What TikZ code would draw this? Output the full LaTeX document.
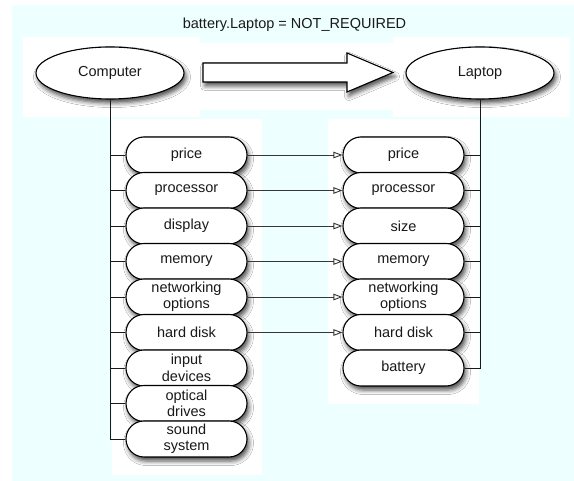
\documentclass[tikz,border=0pt]{standalone}
\usepackage{fontspec}
\setmainfont{Liberation Sans}
\usetikzlibrary{shapes.misc,shapes.geometric,shadows.blur,arrows.meta}
\definecolor{bgcyan}{RGB}{238,255,255}
\definecolor{linegray}{RGB}{55,55,55}
\definecolor{txt}{RGB}{25,25,25}
\begin{document}
\begin{tikzpicture}[x=1pt,y=-1pt,
  softshadow/.style={blur shadow={shadow xshift=2pt, shadow yshift=-4pt, shadow blur radius=4.5pt, shadow opacity=70}},
  pill/.style={rounded rectangle, draw=black, line width=1.1pt, fill=white,
    minimum width=121pt, minimum height=36pt, inner sep=0pt, align=center,
    font=\fontsize{14.5}{16.5}\selectfont, text=txt, softshadow},
  oval/.style={ellipse, draw=black, line width=1.1pt, fill=white,
    minimum width=148pt, minimum height=52pt, inner sep=0pt,
    font=\fontsize{14.5}{16.5}\selectfont, text=txt, softshadow},
  tree/.style={draw=black!90, line width=0.9pt},
  link/.style={draw=linegray, line width=0.9pt, -{Triangle[open, length=9pt, width=6.5pt]}},
  panel/.style={fill=white, draw=none}]
\useasboundingbox (0,0) rectangle (574,481);
% backgrounds
\fill[bgcyan] (12,5) rectangle (574,481);
\fill[panel] (23,37) rectangle (200,117);
\fill[panel] (200,43) rectangle (393,110);
\fill[panel] (393,37) rectangle (570,117);
\fill[panel] (112,119) rectangle (262,475);
\fill[panel] (328,119) rectangle (479,404);
% title
\node[font=\fontsize{14.5}{16.5}\selectfont, text=txt] (title) at (294.5,25) {battery.Laptop = NOT\_REQUIRED};
% big arrow
\draw[line width=1.1pt, fill=white, line join=miter, softshadow]
  (203,63) -- (347,63) -- (347,53) -- (393,72.5) -- (347,92) -- (347,82) -- (203,82) -- cycle;
% ellipses
\node[oval] (computer) at (110,73) {Computer};
\node[oval] (laptop) at (480,73) {Laptop};
% left pills
\node[pill] (lprice) at (186.5,155) {price};
\node[pill] (lproc) at (186.5,190.5) {processor};
\node[pill] (ldisp) at (186.5,226) {display};
\node[pill] (lmem) at (186.5,261.5) {memory};
\node[pill] (lnet) at (186.5,297) {networking\\options};
\node[pill] (lhd) at (186.5,332.5) {hard disk};
\node[pill] (linput) at (186.5,368) {input\\devices};
\node[pill] (lopt) at (186.5,403.5) {optical\\drives};
\node[pill] (lsound) at (186.5,439) {sound\\system};
% right pills
\node[pill] (rprice) at (403.5,155) {price};
\node[pill] (rproc) at (403.5,190.5) {processor};
\node[pill] (rsize) at (403.5,226) {size};
\node[pill] (rmem) at (403.5,261.5) {memory};
\node[pill] (rnet) at (403.5,297) {networking\\options};
\node[pill] (rhd) at (403.5,332.5) {hard disk};
\node[pill] (rbat) at (403.5,368) {battery};
% left tree
\foreach \n in {lprice,lproc,ldisp,lmem,lnet,lhd,linput,lopt,lsound}
  \draw[tree] (\n.west) -| (computer.south);
% right tree
\foreach \n in {rprice,rproc,rsize,rmem,rnet,rhd,rbat}
  \draw[tree] (\n.east) -| (laptop.south);
% mappings
\draw[link] (lprice.east) -- (rprice.west);
\draw[link] (lproc.east) -- (rproc.west);
\draw[link] (ldisp.east) -- (rsize.west);
\draw[link] (lmem.east) -- (rmem.west);
\draw[link] (lnet.east) -- (rnet.west);
\draw[link] (lhd.east) -- (rhd.west);
\end{tikzpicture}
\end{document}
